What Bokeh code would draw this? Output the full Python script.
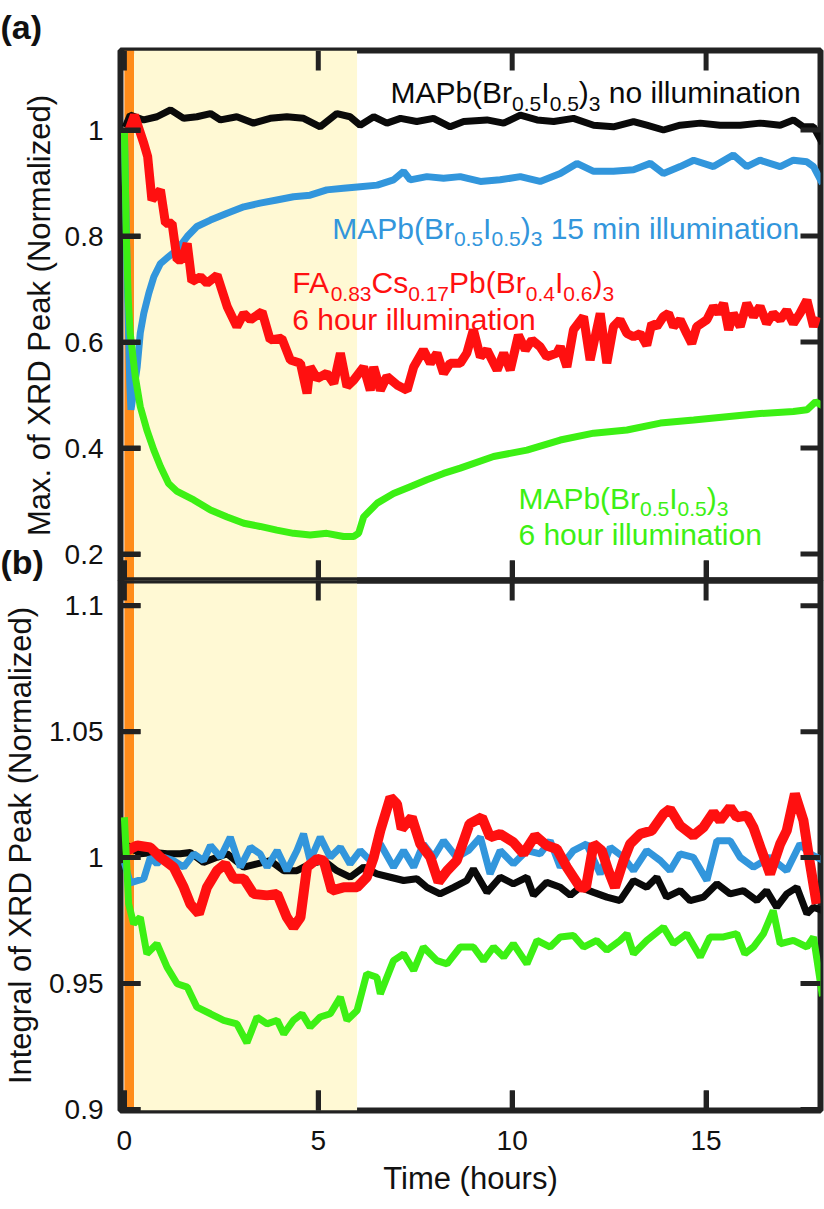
from bokeh.plotting import figure
from bokeh.models import BoxAnnotation, ColumnDataSource, FixedTicker, Range1d, Span, Title
from bokeh.layouts import column
from bokeh.core.properties import value, field
from bokeh.embed import file_html
from bokeh.resources import INLINE

# ---------------- data ----------------
time_ticks = [0, 5, 10, 15]
max_ticks = [0.2, 0.4, 0.6, 0.8, 1.0]
max_tick_labels = ["0.2", "0.4", "0.6", "0.8", "1"]
int_ticks = [0.9, 0.95, 1.0, 1.05, 1.1]
int_tick_labels = ["0.9", "0.95", "1", "1.05", "1.1"]

# illumination windows in hours: 15 min (orange) and the rest of 6 h (yellow)
light_start = [0.0, 0.25]
light_end = [0.25, 6.0]
light_colors = ["#FF8C1A", "#FFF9D4"]

# (a) max of XRD peak
t_black_a = [0.02, 0.15, 0.50, 0.84, 1.19, 1.53, 1.87, 2.22, 2.48, 2.90, 3.33, 3.76, 4.19, 4.62, 5.05,
             5.48, 5.82, 6.08, 6.43, 6.77, 7.12, 7.54, 7.97, 8.40, 8.75, 9.35, 9.78, 10.21, 10.64, 11.07,
             11.58, 12.10, 12.61, 13.13, 13.47, 13.90, 14.33, 14.85, 15.36, 15.88, 16.39, 16.91, 17.25,
             17.51, 17.77, 18.0]
max_black = [1.005, 1.028, 1.019, 1.025, 1.038, 1.022, 1.025, 1.031, 1.019, 1.025, 1.013, 1.022, 1.025,
             1.022, 1.006, 1.031, 1.025, 1.009, 1.025, 1.013, 1.022, 1.016, 1.022, 1.006, 1.016, 1.019,
             1.013, 1.028, 1.019, 1.016, 1.022, 1.009, 1.006, 1.016, 1.009, 1.000, 1.009, 1.013, 1.009,
             1.009, 1.013, 1.009, 1.019, 1.006, 1.006, 0.975]

t_blue_a = [0.0, 0.08, 0.14, 0.17, 0.33, 0.41, 0.50, 0.63, 0.76, 0.93, 1.14, 1.36, 1.62, 1.87, 2.22,
            2.65, 3.08, 3.50, 3.93, 4.36, 4.79, 5.22, 5.65, 6.08, 6.52, 6.94, 7.20, 7.37, 7.80, 8.23,
            8.66, 9.18, 9.69, 10.21, 10.72, 11.24, 11.67, 12.10, 12.61, 13.13, 13.56, 13.90, 14.33,
            14.68, 15.19, 15.70, 16.05, 16.39, 16.91, 17.25, 17.60, 17.77, 18.0]
max_blue = [1.0, 0.70, 0.52, 0.472, 0.553, 0.617, 0.654, 0.692, 0.723, 0.748, 0.761, 0.774, 0.799, 0.818,
            0.830, 0.843, 0.855, 0.862, 0.868, 0.874, 0.877, 0.887, 0.890, 0.893, 0.896, 0.906, 0.922,
            0.906, 0.912, 0.909, 0.912, 0.903, 0.906, 0.912, 0.903, 0.918, 0.937, 0.922, 0.922, 0.925,
            0.937, 0.918, 0.931, 0.943, 0.931, 0.953, 0.931, 0.943, 0.931, 0.943, 0.940, 0.931, 0.899]

t_red_a = [0.12, 0.26, 0.50, 0.60, 0.71, 0.93, 1.06, 1.23, 1.36, 1.49, 1.62, 1.74, 1.96, 2.13, 2.39,
           2.65, 2.90, 3.08, 3.25, 3.55, 3.76, 4.06, 4.28, 4.54, 4.71, 4.79, 4.97, 5.22, 5.40, 5.57,
           5.74, 5.91, 6.17, 6.34, 6.43, 6.60, 6.77, 7.03, 7.29, 7.46, 7.71, 7.89, 8.06, 8.23, 8.40,
           8.66, 8.83, 9.00, 9.18, 9.35, 9.61, 9.78, 9.95, 10.16, 10.34, 10.51, 10.72, 10.89, 11.15,
           11.24, 11.41, 11.58, 11.84, 12.01, 12.27, 12.44, 12.61, 12.78, 12.96, 13.13, 13.30, 13.47,
           13.60, 13.73, 13.90, 14.03, 14.16, 14.33, 14.50, 14.63, 14.76, 15.02, 15.19, 15.32, 15.45,
           15.58, 15.70, 15.88, 16.05, 16.22, 16.39, 16.56, 16.73, 16.91, 17.08, 17.25, 17.42, 17.60,
           17.77, 17.85]
max_red = [1.000, 1.028, 0.975, 0.950, 0.868, 0.887, 0.824, 0.824, 0.755, 0.755, 0.786, 0.714, 0.723,
           0.711, 0.726, 0.667, 0.629, 0.654, 0.642, 0.657, 0.604, 0.607, 0.566, 0.560, 0.503, 0.553,
           0.531, 0.541, 0.522, 0.579, 0.516, 0.528, 0.553, 0.509, 0.553, 0.509, 0.535, 0.519, 0.509,
           0.553, 0.585, 0.560, 0.579, 0.541, 0.560, 0.560, 0.579, 0.623, 0.572, 0.585, 0.547, 0.579,
           0.547, 0.613, 0.585, 0.604, 0.591, 0.572, 0.579, 0.591, 0.553, 0.623, 0.648, 0.566, 0.654,
           0.560, 0.629, 0.642, 0.616, 0.610, 0.616, 0.594, 0.635, 0.629, 0.648, 0.654, 0.629, 0.642,
           0.616, 0.597, 0.629, 0.642, 0.667, 0.654, 0.673, 0.623, 0.654, 0.629, 0.673, 0.648, 0.667,
           0.635, 0.654, 0.642, 0.660, 0.635, 0.654, 0.679, 0.629, 0.648]

t_green_a = [0.0, 0.05, 0.10, 0.15, 0.28, 0.41, 0.58, 0.76, 0.93, 1.14, 1.36, 1.79, 2.22, 2.65, 3.08,
             3.50, 3.93, 4.36, 4.79, 5.22, 5.65, 5.91, 6.04, 6.17, 6.52, 6.94, 7.37, 7.80, 8.23, 8.66,
             9.52, 10.38, 11.24, 12.10, 12.96, 13.82, 14.68, 15.53, 16.39, 17.25, 17.60, 17.82, 18.0]
max_green = [1.0, 0.80, 0.68, 0.617, 0.535, 0.478, 0.434, 0.396, 0.365, 0.333, 0.318, 0.302, 0.283,
             0.270, 0.258, 0.252, 0.245, 0.239, 0.236, 0.239, 0.233, 0.233, 0.239, 0.270, 0.296, 0.314,
             0.327, 0.340, 0.352, 0.362, 0.384, 0.396, 0.415, 0.428, 0.434, 0.447, 0.453, 0.459, 0.465,
             0.469, 0.472, 0.487, 0.480]

# (b) integral of XRD peak
t_black_b = [0.0, 0.07, 0.41, 0.76, 1.10, 1.44, 1.70, 2.04, 2.39, 2.65, 3.08, 3.42, 3.76, 4.11, 4.45,
             4.79, 5.14, 5.48, 5.82, 6.17, 6.51, 6.86, 7.20, 7.54, 7.80, 8.14, 8.49, 8.83, 9.00, 9.35,
             9.69, 10.03, 10.38, 10.55, 10.89, 11.24, 11.50, 11.75, 12.10, 12.44, 12.78, 13.13, 13.47,
             13.73, 13.98, 14.33, 14.59, 14.93, 15.28, 15.62, 15.96, 16.31, 16.56, 16.82, 17.08, 17.34,
             17.60, 17.77, 18.0]
int_black = [0.999, 1.0048, 1.0015, 1.0020, 1.0015, 1.0015, 1.0020, 0.9981, 1.0001, 1.0015, 0.9962,
             0.9975, 0.9988, 0.9948, 0.9948, 0.9975, 0.9988, 0.9948, 0.9922, 0.9962, 0.9935, 0.9922,
             0.9909, 0.9916, 0.9882, 0.9856, 0.9882, 0.9909, 0.9955, 0.9862, 0.9922, 0.9896, 0.9922,
             0.9850, 0.9902, 0.9882, 0.9850, 0.9882, 0.9862, 0.9843, 0.9829, 0.9909, 0.9882, 0.9922,
             0.9843, 0.9869, 0.9829, 0.9843, 0.9896, 0.9856, 0.9869, 0.9829, 0.9869, 0.9803, 0.9856,
             0.9882, 0.9777, 0.9803, 0.979]

t_blue_b = [0.0, 0.15, 0.50, 0.67, 0.84, 1.01, 1.27, 1.53, 1.79, 2.04, 2.22, 2.48, 2.73, 2.99, 3.25,
            3.50, 3.68, 3.94, 4.19, 4.45, 4.62, 4.79, 5.05, 5.31, 5.57, 5.82, 6.08, 6.34, 6.60, 6.94,
            7.20, 7.46, 7.71, 7.97, 8.23, 8.57, 8.87, 9.18, 9.43, 9.69, 10.03, 10.38, 10.72, 10.98,
            11.24, 11.58, 11.92, 12.27, 12.53, 12.87, 13.13, 13.47, 13.82, 14.07, 14.33, 14.67, 15.02,
            15.28, 15.62, 15.88, 16.22, 16.65, 17.08, 17.42, 17.68, 18.0]
int_blue = [0.998, 0.9900, 0.9916, 1.0001, 0.9975, 1.0001, 0.9988, 0.9962, 1.0015, 0.9988, 1.0048,
            1.0001, 1.0081, 0.9962, 1.0041, 1.0015, 0.9962, 1.0028, 0.9948, 1.0028, 1.0094, 0.9988,
            1.0081, 1.0001, 1.0041, 0.9975, 1.0028, 0.9988, 1.0054, 0.9962, 1.0028, 0.9962, 1.0054,
            1.0001, 1.0067, 1.0001, 1.0028, 1.0081, 0.9935, 1.0028, 0.9975, 1.0028, 1.0015, 1.0067,
            0.9962, 1.0028, 1.0054, 0.9935, 1.0041, 1.0001, 0.9948, 1.0028, 0.9988, 0.9948, 1.0015,
            1.0001, 0.9909, 1.0067, 1.0067, 1.0001, 0.9962, 1.0001, 0.9948, 1.0054, 1.0015, 0.999]

t_red_b = [0.07, 0.33, 0.67, 0.93, 1.27, 1.53, 1.70, 1.92, 2.13, 2.39, 2.60, 2.82, 3.08, 3.33, 3.68,
           3.94, 4.19, 4.36, 4.54, 4.71, 4.97, 5.14, 5.35, 5.65, 6.00, 6.25, 6.43, 6.60, 6.86, 7.03,
           7.15, 7.41, 7.63, 7.89, 8.10, 8.32, 8.57, 8.90, 9.22, 9.43, 9.69, 10.03, 10.29, 10.59, 10.89,
           11.15, 11.41, 11.75, 11.90, 12.10, 12.31, 12.48, 12.65, 12.87, 13.04, 13.30, 13.60, 13.90,
           14.07, 14.33, 14.67, 14.93, 15.19, 15.36, 15.62, 15.79, 16.05, 16.22, 16.43, 16.65, 16.91,
           17.08, 17.29, 17.51, 17.68, 17.85]
int_red = [1.0028, 1.0048, 1.0040, 1.0001, 0.9962, 0.9882, 0.9816, 0.9777, 0.9882, 0.9948, 0.9975,
           0.9916, 0.9916, 0.9856, 0.9850, 0.9856, 0.9763, 0.9723, 0.9763, 0.9962, 0.9995, 0.9988,
           0.9869, 0.9882, 0.9882, 0.9922, 1.0001, 1.0107, 1.0239, 1.0213, 1.0114, 1.0160, 1.0054,
           1.0001, 0.9903, 0.9948, 0.9988, 1.0134, 1.0160, 1.0081, 1.0094, 1.0061, 1.0015, 1.0087,
           1.0048, 1.0034, 0.9962, 0.9882, 0.9880, 1.0054, 1.0028, 0.9948, 0.9882, 0.9988, 1.0054,
           1.0094, 1.0107, 1.0173, 1.0193, 1.0127, 1.0087, 1.0120, 1.0180, 1.0147, 1.0200, 1.0160,
           1.0167, 1.0120, 1.0028, 0.9935, 1.0054, 1.0107, 1.0253, 1.0147, 0.9975, 0.9816]

t_green_b = [0.0, 0.11, 0.24, 0.41, 0.58, 0.84, 1.10, 1.36, 1.62, 1.87, 2.22, 2.56, 2.90, 3.16, 3.42,
             3.68, 3.94, 4.11, 4.36, 4.58, 4.79, 5.05, 5.31, 5.57, 5.74, 6.00, 6.25, 6.51, 6.60, 6.94,
             7.20, 7.46, 7.71, 8.06, 8.32, 8.66, 9.00, 9.26, 9.52, 9.78, 10.03, 10.38, 10.64, 10.98,
             11.24, 11.58, 11.84, 12.18, 12.44, 12.78, 12.96, 13.13, 13.47, 13.90, 14.16, 14.50, 14.85,
             15.10, 15.45, 15.79, 16.00, 16.22, 16.48, 16.73, 16.91, 17.25, 17.60, 17.77, 18.0]
int_green = [1.016, 0.9816, 0.9737, 0.9763, 0.9618, 0.9658, 0.9565, 0.9499, 0.9486, 0.9406, 0.9380,
             0.9354, 0.9340, 0.9265, 0.9367, 0.9340, 0.9354, 0.9300, 0.9354, 0.9380, 0.9327, 0.9367,
             0.9380, 0.9446, 0.9354, 0.9393, 0.9539, 0.9525, 0.9459, 0.9591, 0.9618, 0.9552, 0.9645,
             0.9591, 0.9578, 0.9645, 0.9645, 0.9591, 0.9645, 0.9605, 0.9658, 0.9578, 0.9671, 0.9645,
             0.9685, 0.9691, 0.9645, 0.9671, 0.9632, 0.9671, 0.9698, 0.9618, 0.9671, 0.9724, 0.9658,
             0.9698, 0.9605, 0.9685, 0.9685, 0.9698, 0.9618, 0.9645, 0.9698, 0.9790, 0.9658, 0.9671,
             0.9645, 0.9685, 0.945]

# ---------------- styling ----------------
FONT = "Liberation Sans"
FRAME = "#222222"
INK = "#111111"
BLACK = "#0a0a0a"
BLUE = "#3296DC"
RED = "#FF1010"
GREEN = "#3CF014"
MAIN_PX = 30
SUB_PX = 21
SUB_DROP = 11
FRAME_W, FRAME_H = 700, 530     # plot-area size of each panel in pixels
TICK_PX = 20

# Arial / Liberation Sans advance widths (1/1000 em), used to place subscripts
ADV = {"M": 833, "A": 667, "P": 667, "b": 556, "(": 333, ")": 333, "B": 667, "r": 333, "0": 556,
       ".": 278, "5": 556, "I": 278, "3": 556, " ": 278, "n": 556, "o": 556, "i": 222, "l": 222,
       "u": 556, "m": 833, "a": 556, "t": 278, "F": 611, "C": 722, "s": 500, "1": 556, "7": 556,
       "8": 556, "4": 556, "6": 556, "h": 556}


def seg_width(s, px):
    return sum(ADV.get(c, 556) for c in s) * px / 1000.0


def rich_text(rows, t, v, color, parts):
    dx = 0.0
    for s, sub in parts:
        px = SUB_PX if sub else MAIN_PX
        stripped = s.lstrip(" ")
        dx += seg_width(s[:len(s) - len(stripped)], px)
        rows["x"].append(t)
        rows["y"].append(v)
        rows["text"].append(stripped)
        rows["dx"].append(dx)
        rows["dy"].append(SUB_DROP if sub else 0)
        rows["size"].append("%dpx" % px)
        rows["color"].append(color)
        dx += seg_width(stripped, px)


def style_axis(ax, standoff=None):
    ax.axis_line_color = None
    ax.major_tick_in = TICK_PX
    ax.major_tick_out = 0
    ax.major_tick_line_width = 5
    ax.major_tick_line_color = FRAME
    ax.minor_tick_line_color = None
    ax.minor_tick_in = 0
    ax.minor_tick_out = 0
    if standoff is not None:
        ax.major_label_text_font = FONT
        ax.major_label_text_font_size = "28px"
        ax.major_label_text_color = INK
        ax.major_label_standoff = standoff
    else:
        ax.major_label_text_color = None
        ax.major_label_text_font_size = "0px"
        ax.major_label_standoff = 0


def edge_ticks(p, y_range, yticks):
    # inward tick marks on the four frame edges, TICK_PX long
    dy = (y_range.end - y_range.start) * TICK_PX / FRAME_H
    dx = (x_range.end - x_range.start) * TICK_PX / FRAME_W
    style = dict(line_color=FRAME, line_width=5)
    n, m = len(time_ticks), len(yticks)
    p.segment(x0=time_ticks, x1=time_ticks, y0=[y_range.end] * n, y1=[y_range.end - dy] * n, **style)
    p.segment(x0=time_ticks, x1=time_ticks, y0=[y_range.start] * n, y1=[y_range.start + dy] * n, **style)
    p.segment(x0=[x_range.start] * m, x1=[x_range.start + dx] * m, y0=yticks, y1=yticks, **style)
    p.segment(x0=[x_range.end] * m, x1=[x_range.end - dx] * m, y0=yticks, y1=yticks, **style)


def make_panel(height, y_range, yticks, ylabels, tag, tag_standoff, top, bottom, **kw):
    p = figure(width=824, height=height, x_range=x_range, y_range=y_range, title=None,
               output_backend="svg", toolbar_location=None,
               min_border_left=120, min_border_right=4,
               min_border_top=top, min_border_bottom=bottom, **kw)
    p.grid.visible = False
    p.outline_line_color = FRAME
    p.outline_line_width = 6
    p.border_fill_color = None

    left = p.left[0]
    left.ticker = FixedTicker(ticks=yticks)
    left.major_label_overrides = dict(zip(yticks, ylabels))
    style_axis(left, 17)
    below = p.below[0]
    below.ticker = FixedTicker(ticks=time_ticks)

    # panel tag above the frame, flush with the left edge of the page
    p.add_layout(Title(text=tag, align="left", offset=-120, standoff=tag_standoff,
                       text_font=FONT, text_font_size="34px", text_font_style="bold",
                       text_color=INK), "above")

    for a, b, c in zip(light_start, light_end, light_colors):
        p.add_layout(BoxAnnotation(left=a, right=b, fill_color=c, fill_alpha=1.0,
                                   line_color=None, level="underlay"))
    return p, left, below


x_range = Range1d(-0.1, 17.95)
range_a = Range1d(0.15, 1.15)
range_b = Range1d(0.8996, 1.11)

# ---------------- panel (a) ----------------
p1, left1, below1 = make_panel(583, range_a, max_ticks, max_tick_labels, "(a)", 9, 50, 3)
style_axis(below1)
p1.add_layout(Title(text="Max. of XRD Peak (Normalized)", align="center", offset=39, standoff=10,
                    text_font=FONT, text_font_size="31px", text_font_style="normal",
                    text_color=INK), "left")

p1.line(t_black_a, max_black, line_color=BLACK, line_width=7)
p1.line(t_blue_a, max_blue, line_color=BLUE, line_width=7)
p1.line(t_red_a, max_red, line_color=RED, line_width=9)
p1.line(t_green_a, max_green, line_color=GREEN, line_width=7)
edge_ticks(p1, range_a, max_ticks)
p1.add_layout(Span(location=range_a.start, dimension="width", line_color=FRAME, line_width=6))

rows = {"x": [], "y": [], "text": [], "dx": [], "dy": [], "size": [], "color": []}
mapbi = [("MAPb(Br", False), ("0.5", True), ("I", False), ("0.5", True), (")", False), ("3", True)]
rich_text(rows, 6.86, 1.070, BLACK, mapbi + [(" no illumination", False)])
rich_text(rows, 5.36, 0.815, BLUE, mapbi + [(" 15 min illumination", False)])
rich_text(rows, 4.33, 0.712, RED, [("FA", False), ("0.83", True), ("Cs", False), ("0.17", True),
                                   ("Pb(Br", False), ("0.4", True), ("I", False), ("0.6", True),
                                   (")", False), ("3", True)])
rich_text(rows, 4.33, 0.642, RED, [("6 hour illumination", False)])
rich_text(rows, 10.16, 0.305, GREEN, mapbi)
rich_text(rows, 10.16, 0.236, GREEN, [("6 hour illumination", False)])
p1.text(x="x", y="y", text="text", x_offset="dx", y_offset="dy",
        text_font=value(FONT), text_font_size=field("size"), text_color=field("color"),
        text_align="left", text_baseline="alphabetic", source=ColumnDataSource(rows))

# ---------------- panel (b) ----------------
# transparent top border (holding the "(b)" tag) slides under the bottom edge of panel (a)
p2, left2, below2 = make_panel(44 + 530 + 98, range_b, int_ticks, int_tick_labels, "(b)", 0,
                               44, 98, margin=(-47, 0, 0, 0))
style_axis(below2, 20)
below2.axis_label = "Time (hours)"
below2.axis_label_standoff = 8
left2.axis_label = "Integral of XRD Peak (Normalized)"
left2.axis_label_standoff = 8
for ax in (below2, left2):
    ax.axis_label_text_font = FONT
    ax.axis_label_text_font_size = "31px"
    ax.axis_label_text_font_style = "normal"
    ax.axis_label_text_color = INK

p2.line(t_black_b, int_black, line_color=BLACK, line_width=7)
p2.line(t_blue_b, int_blue, line_color=BLUE, line_width=7)
p2.line(t_red_b, int_red, line_color=RED, line_width=10)
p2.line(t_green_b, int_green, line_color=GREEN, line_width=7)
edge_ticks(p2, range_b, int_ticks)
p2.add_layout(Span(location=range_b.end, dimension="width", line_color=FRAME, line_width=6))

layout = column(p1, p2)
open("out.html", "w").write(file_html(layout, INLINE))
